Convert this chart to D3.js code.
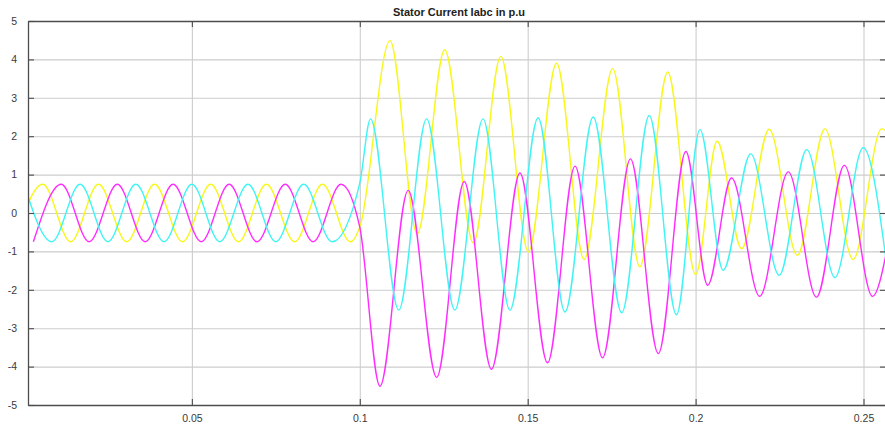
<!DOCTYPE html>
<html>
<head>
<meta charset="utf-8">
<script src="https://cdn.jsdelivr.net/npm/d3@7"></script>
<style>
  html, body { margin: 0; padding: 0; background: #ffffff; }
  svg { display: block; }
  .tick text { font-family: "Liberation Sans", Arial, sans-serif; font-size: 10.5px; fill: #3a3a3a; }
</style>
</head>
<body>
<svg id="chart" width="885" height="430"></svg>
<script>
// Stator current, phase a (yellow): extrema times [s] and values [p.u.]
const iaTime = [-0.0028, 0.0056, 0.0139, 0.0222, 0.0306, 0.0389, 0.0472, 0.0556, 0.0639, 0.0722,
                0.0806, 0.0889, 0.0972, 0.1000, 0.1090, 0.1171, 0.1253, 0.1338, 0.1420, 0.1502,
                0.1586, 0.1668, 0.1753, 0.1834, 0.1917, 0.2000, 0.2064, 0.2137, 0.2219, 0.2303,
                0.2385, 0.2469, 0.2554, 0.2570];
const iaValue = [-0.75, 0.75, -0.75, 0.75, -0.75, 0.75, -0.75, 0.75, -0.75, 0.75,
                 -0.75, 0.75, -0.75, -0.37, 4.49, -0.54, 4.25, -0.78, 4.08, -1.01,
                 3.90, -1.21, 3.76, -1.40, 3.67, -1.60, 1.87, -0.93, 2.18, -1.10,
                 2.19, -1.21, 2.19, 2.12];

// Phase b (magenta)
const ibTime = [0.0028, 0.0111, 0.0194, 0.0278, 0.0361, 0.0444, 0.0528, 0.0611, 0.0694, 0.0778,
                0.0861, 0.0944, 0.1000, 0.1060, 0.1144, 0.1229, 0.1311, 0.1392, 0.1477, 0.1559,
                0.1641, 0.1723, 0.1806, 0.1889, 0.1971, 0.2036, 0.2107, 0.2191, 0.2276, 0.2360,
                0.2443, 0.2527, 0.2570];
const ibValue = [-0.75, 0.75, -0.75, 0.75, -0.75, 0.75, -0.75, 0.75, -0.75, 0.75,
                 -0.75, 0.75, -0.37, -4.51, 0.59, -4.28, 0.82, -4.07, 1.04, -3.90,
                 1.22, -3.77, 1.41, -3.66, 1.60, -1.88, 0.91, -2.17, 1.07, -2.19,
                 1.24, -2.17, -0.95];

// Phase c (cyan)
const icTime = [0.0000, 0.0083, 0.0167, 0.0250, 0.0333, 0.0417, 0.0500, 0.0583, 0.0667, 0.0750,
                0.0833, 0.0917, 0.1000, 0.1032, 0.1116, 0.1199, 0.1283, 0.1367, 0.1447, 0.1531,
                0.1611, 0.1695, 0.1780, 0.1862, 0.1943, 0.2013, 0.2082, 0.2164, 0.2249, 0.2331,
                0.2415, 0.2499, 0.2570];
const icValue = [0.75, -0.75, 0.75, -0.75, 0.75, -0.75, 0.75, -0.75, 0.75, -0.75,
                 0.75, -0.75, 0.78, 2.45, -2.53, 2.45, -2.53, 2.45, -2.53, 2.48,
                 -2.58, 2.50, -2.60, 2.54, -2.65, 2.17, -1.49, 1.54, -1.62, 1.65,
                 -1.68, 1.70, -1.40];

const xTicks = [0.05, 0.1, 0.15, 0.2, 0.25];
const xTickLabels = ["0.05", "0.1", "0.15", "0.2", "0.25"];
const yTicks = [-5, -4, -3, -2, -1, 0, 1, 2, 3, 4, 5];
const yTickLabels = ["-5", "-4", "-3", "-2", "-1", "0", "1", "2", "3", "4", "5"];
const titleText = "Stator Current Iabc in p.u";

const seriesColors = ["#f7f71a", "#ff2cff", "#3ff4f4"];

(function draw() {
  const svg = d3.select("#chart");
  const m = { left: 28, top: 21, right: 886, bottom: 405 };
  const innerW = m.right - m.left, innerH = m.bottom - m.top;

  const x = d3.scaleLinear().domain([0.0012, 0.2567]).range([m.left, m.right]);
  const y = d3.scaleLinear().domain([-5, 5]).range([m.bottom, m.top]);

  // clip for the traces
  svg.append("defs").append("clipPath").attr("id", "plotClip")
    .append("rect").attr("x", m.left).attr("y", m.top).attr("width", innerW).attr("height", innerH);

  // grid lines
  const grid = svg.append("g").attr("class", "grid");
  grid.append("g")
    .attr("transform", `translate(0,${m.bottom})`)
    .call(d3.axisBottom(x).tickValues(xTicks).tickSize(-innerH).tickFormat(""))
    .call(g => g.select(".domain").remove())
    .call(g => g.selectAll("line").attr("stroke", "#cdcdcd").attr("stroke-width", 1.1));
  grid.append("g")
    .attr("transform", `translate(${m.left},0)`)
    .call(d3.axisLeft(y).tickValues(yTicks.slice(1, -1)).tickSize(-innerW).tickFormat(""))
    .call(g => g.select(".domain").remove())
    .call(g => g.selectAll("line").attr("stroke", "#cdcdcd").attr("stroke-width", 1.1));

  // traces
  const line = d3.line()
    .x(d => x(d[0]))
    .y(d => y(d[1]))
    .curve(d3.curveMonotoneX);

  const series = [
    { t: iaTime, v: iaValue, color: seriesColors[0] },
    { t: ibTime, v: ibValue, color: seriesColors[1] },
    { t: icTime, v: icValue, color: seriesColors[2] }
  ];

  const traces = svg.append("g").attr("clip-path", "url(#plotClip)");
  series.forEach(s => {
    traces.append("path")
      .datum(s.t.map((t, i) => [t, s.v[i]]))
      .attr("fill", "none")
      .attr("stroke", s.color)
      .attr("stroke-width", 1.4)
      .attr("stroke-linejoin", "round")
      .attr("d", line);
  });

  // axes with inward ticks
  const axisColor = "#4d4d4d";
  const styleAxis = g => {
    g.select(".domain").attr("stroke", axisColor).attr("stroke-width", 1.3);
    g.selectAll(".tick line").attr("stroke", axisColor).attr("stroke-width", 1.1);
  };

  svg.append("g")
    .attr("transform", `translate(0,${m.bottom})`)
    .call(d3.axisBottom(x).tickValues(xTicks).tickSizeInner(-6).tickSizeOuter(0)
          .tickPadding(10).tickFormat((d, i) => xTickLabels[i]))
    .call(styleAxis);

  svg.append("g")
    .attr("transform", `translate(0,${m.top})`)
    .call(d3.axisTop(x).tickValues(xTicks).tickSizeInner(-6).tickSizeOuter(0).tickFormat(""))
    .call(styleAxis);

  svg.append("g")
    .attr("transform", `translate(${m.left},0)`)
    .call(d3.axisLeft(y).tickValues(yTicks).tickSizeInner(-6).tickSizeOuter(0)
          .tickPadding(11).tickFormat((d, i) => yTickLabels[i]))
    .call(styleAxis);

  svg.append("g")
    .attr("transform", `translate(${m.right},0)`)
    .call(d3.axisRight(y).tickValues(yTicks).tickSizeInner(-6).tickSizeOuter(0).tickFormat(""))
    .call(styleAxis);

  // title
  svg.append("text")
    .attr("x", (m.left + m.right) / 2 + 2)
    .attr("y", 15.5)
    .attr("text-anchor", "middle")
    .attr("font-family", "Liberation Sans, Arial, sans-serif")
    .attr("font-weight", "bold")
    .attr("font-size", 11)
    .attr("fill", "#222")
    .text(titleText);
})();
</script>
</body>
</html>
